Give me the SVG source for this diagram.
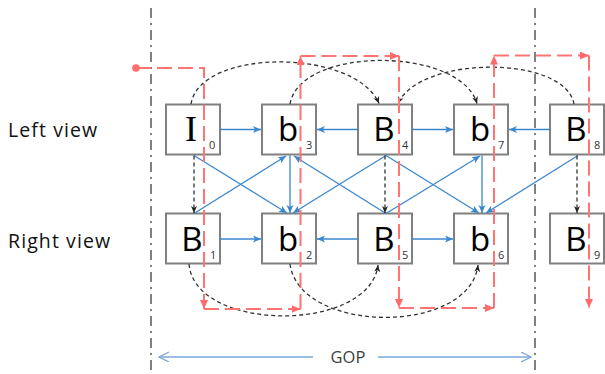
<svg xmlns="http://www.w3.org/2000/svg" width="605" height="374" viewBox="0 0 605 374">
<style>
.box{fill:#fff;stroke:#808080;stroke-width:2}
.let{font-family:"Open Sans","Liberation Sans",sans-serif;font-size:33px;fill:#000;text-anchor:middle}
.letI{font-family:"Liberation Serif","DejaVu Serif",serif;font-size:36px;fill:#000;text-anchor:middle}
.sub{font-family:"Open Sans","Liberation Sans",sans-serif;font-size:11px;fill:#333}
.lbl{font-family:"Open Sans","Liberation Sans",sans-serif;font-size:19.5px;fill:#111;letter-spacing:1.1px}
.gop{font-family:"Open Sans","Liberation Sans",sans-serif;font-size:16.5px;fill:#404040;text-anchor:middle}
.sep{fill:none;stroke:#808080;stroke-width:2;stroke-dasharray:10 5 2 5}
.blue{fill:none;stroke:#3a87d0;stroke-width:1.3;marker-end:url(#ab)}
.blk{fill:none;stroke:#333;stroke-width:1.3;stroke-dasharray:4 3;marker-end:url(#ak)}
.red{fill:none;stroke:#ff7373;stroke-width:2;stroke-dasharray:15 6;marker-end:url(#ar)}
.gopl{fill:none;stroke:#7ea6d8;stroke-width:1.3;marker-end:url(#ag)}
</style>
<defs>
<marker id="ab" markerUnits="userSpaceOnUse" markerWidth="10" markerHeight="10" refX="8" refY="3.5" orient="auto"><path d="M0,0 L8,3.5 L0,7 L2,3.5 z" fill="#3a87d0"/></marker>
<marker id="ak" markerUnits="userSpaceOnUse" markerWidth="10" markerHeight="10" refX="7" refY="3" orient="auto"><path d="M0,0 L7,3 L0,6 L2,3 z" fill="#222"/></marker>
<marker id="ar" markerUnits="userSpaceOnUse" markerWidth="12" markerHeight="12" refX="9" refY="4" orient="auto"><path d="M0,0 L9,4 L0,8 z" fill="#ff6b6b"/></marker>
<marker id="ag" markerUnits="userSpaceOnUse" markerWidth="12" markerHeight="12" refX="10" refY="5" orient="auto"><path d="M0,0 L10,5 L0,10" fill="none" stroke="#7ea6d8" stroke-width="1.3"/></marker>
</defs>
<rect width="605" height="374" fill="#fff"/>
<g id="separators">
<path class="sep" d="M151,8 V374"/>
<path class="sep" d="M535,8 V374"/>
</g>
<text class="lbl" x="8" y="137">Left view</text>
<text class="lbl" x="8" y="248">Right view</text>
<g id="node-I0"><rect class="box" x="166" y="104.5" width="54" height="50"/><text class="letI" x="191" y="141">I</text><text class="sub" x="209" y="149">0</text></g>
<g id="node-b3"><rect class="box" x="262" y="104.5" width="54" height="50"/><text class="let" x="288" y="141">b</text><text class="sub" x="306" y="149">3</text></g>
<g id="node-B4"><rect class="box" x="358" y="104.5" width="54" height="50"/><text class="let" x="384" y="141">B</text><text class="sub" x="402" y="149">4</text></g>
<g id="node-b7"><rect class="box" x="454" y="104.5" width="54" height="50"/><text class="let" x="480" y="141">b</text><text class="sub" x="498" y="149">7</text></g>
<g id="node-B8"><rect class="box" x="550" y="104.5" width="54" height="50"/><text class="let" x="576" y="141">B</text><text class="sub" x="594" y="149">8</text></g>
<g id="node-B1"><rect class="box" x="166" y="213.5" width="54" height="50"/><text class="let" x="192" y="251">B</text><text class="sub" x="210" y="259">1</text></g>
<g id="node-b2"><rect class="box" x="262" y="213.5" width="54" height="50"/><text class="let" x="288" y="251">b</text><text class="sub" x="306" y="259">2</text></g>
<g id="node-B5"><rect class="box" x="358" y="213.5" width="54" height="50"/><text class="let" x="384" y="251">B</text><text class="sub" x="402" y="259">5</text></g>
<g id="node-b6"><rect class="box" x="454" y="213.5" width="54" height="50"/><text class="let" x="480" y="251">b</text><text class="sub" x="498" y="259">6</text></g>
<g id="node-B9"><rect class="box" x="550" y="213.5" width="54" height="50"/><text class="let" x="576" y="251">B</text><text class="sub" x="594" y="259">9</text></g>
<g id="connectors">
<path class="blue" d="M220,129.5 H261"/>
<path class="blue" d="M358,129.5 H317"/>
<path class="blue" d="M412,129.5 H453"/>
<path class="blue" d="M550,129.5 H509"/>
<path class="blue" d="M220,239 H261"/>
<path class="blue" d="M358,239 H317"/>
<path class="blue" d="M412,239 H453"/>
<path class="blue" d="M194,155.5 L287,213"/>
<path class="blue" d="M194,213.5 L286,156"/>
<path class="blue" d="M386,155.5 L293,213"/>
<path class="blue" d="M386,213.5 L294,156"/>
<path class="blue" d="M386,155.5 L479,213"/>
<path class="blue" d="M386,213.5 L480,156"/>
<path class="blue" d="M578,155.5 L486,213"/>
<path class="blue" d="M290,155.5 V213"/>
<path class="blue" d="M482,155.5 V213"/>
<path class="blk" d="M194,155.5 V213"/>
<path class="blk" d="M385,155.5 V213"/>
<path class="blk" d="M577,155.5 V213"/>
<path class="blk" d="M191,104 C200,48 355,48 379,103.5"/>
<path class="blk" d="M290,104 C300,46 460,46 477,103.5"/>
<path class="blk" d="M574,104 C565,55 420,55 398,103.5"/>
<path class="blk" d="M189,264 C195,333 370,333 378,265"/>
<path class="blk" d="M290,264 C300,335 470,335 478,265"/>
<circle cx="136" cy="68" r="3.8" fill="#ff6b6b"/>
<path class="red" d="M136,68 H204 V309"/>
<path class="red" d="M204,309 H300.5"/>
<path class="red" d="M300.5,309 V56"/>
<path class="red" d="M300.5,56 H399"/>
<path class="red" d="M399,56 V308"/>
<path class="red" d="M399,308 H494"/>
<path class="red" d="M494,308 V55.5"/>
<path class="red" d="M494,55.5 H589"/>
<path class="red" d="M589,55.5 V308"/>
<path class="gopl" d="M313,357 H159"/>
<path class="gopl" d="M378,357 H531"/>
</g>
<text class="gop" x="348" y="363">GOP</text>
</svg>
